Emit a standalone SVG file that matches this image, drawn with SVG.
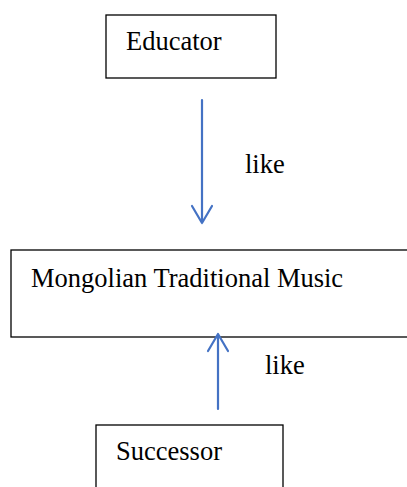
<svg xmlns="http://www.w3.org/2000/svg" width="407" height="487" viewBox="0 0 407 487">
<style>
.box{fill:#fff;stroke:#000;stroke-width:1.3}
.t{font-family:"Liberation Serif","Times New Roman",serif;font-size:26.5px;fill:#000}
.c{fill:none;stroke:#4472C4;stroke-width:2.2;stroke-linecap:round;stroke-linejoin:round}
</style>
<rect width="407" height="487" fill="#fff"/>
<g id="educator">
<rect class="box" x="106" y="15" width="170" height="63"/>
<text class="t" x="126" y="50">Educator</text>
</g>
<g id="music">
<rect class="box" x="11" y="250" width="410" height="87"/>
<text class="t" x="31" y="287">Mongolian Traditional Music</text>
</g>
<g id="successor">
<rect class="box" x="96" y="425" width="187" height="80"/>
<text class="t" x="116" y="460">Successor</text>
</g>
<g id="connectors">
<path class="c" d="M202 100 V223 M192 206 L202 223 L212 206"/>
<text class="t" x="245" y="173">like</text>
<path class="c" d="M218 409 V334 M208 351 L218 334 L228 351"/>
<text class="t" x="265" y="374">like</text>
</g>
</svg>
